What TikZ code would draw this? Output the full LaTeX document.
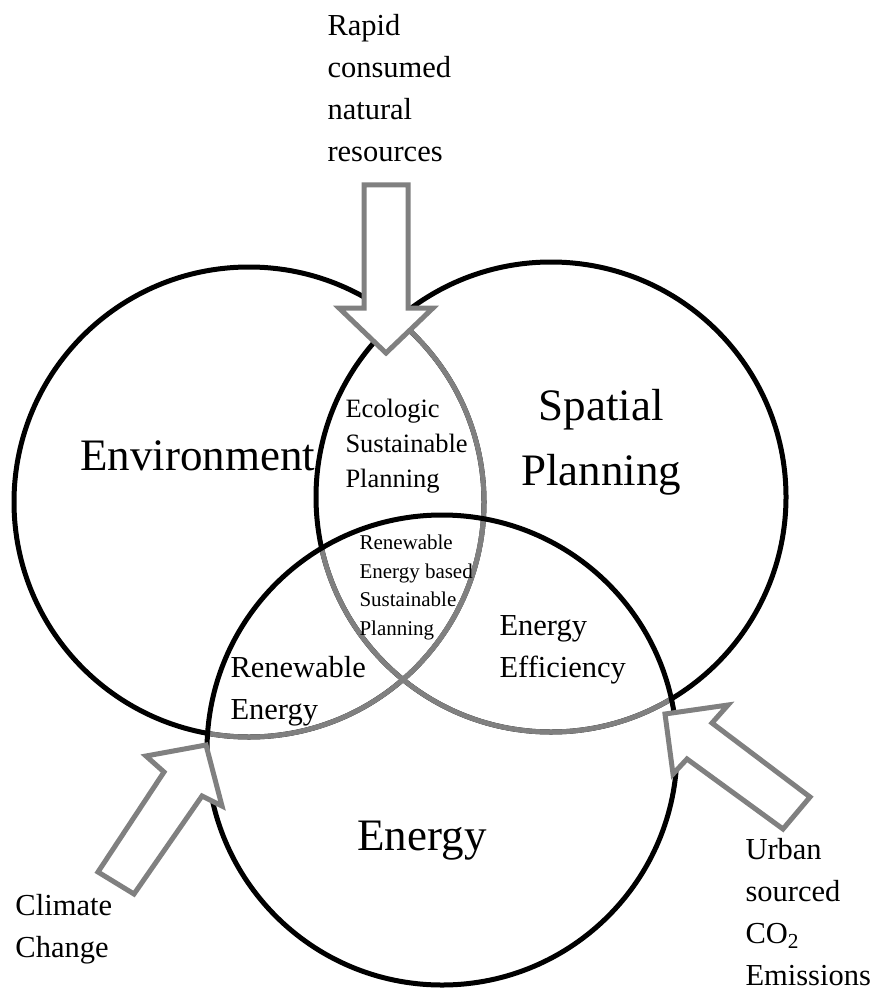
\documentclass[tikz,border=0pt]{standalone}
\usepackage{fontspec}
\setmainfont{Liberation Serif}
\usepackage{tikz}

\begin{document}
\begin{tikzpicture}[x=1pt,y=-1pt,line width=5pt,
  faded/.style={draw=black!50},
  block/.style={draw=black!50,fill=white,line width=5pt,line join=miter},
  big/.style={font=\fontsize{45}{65}\selectfont,inner sep=0pt},
  mid/.style={font=\fontsize{30.5}{42}\selectfont,align=left,anchor=base west,inner sep=0pt},
  small/.style={font=\fontsize{26.5}{35}\selectfont,align=left,anchor=base west,inner sep=0pt},
  tiny/.style={font=\fontsize{21}{28.5}\selectfont,align=left,anchor=base west,inner sep=0pt}]
\useasboundingbox (0,0) rectangle (876,992);
\coordinate (env) at (249,502);
\coordinate (spa) at (551,497);
\coordinate (eng) at (442,750);
\draw (env) circle[radius=235pt];
\begin{scope}
\clip (spa) circle[radius=235pt];
\draw[faded] (env) circle[radius=235pt];
\end{scope}
\draw (spa) circle[radius=235pt];
\begin{scope}
\clip (eng) circle[radius=235pt];
\draw[faded] (env) circle[radius=235pt];
\draw[faded] (spa) circle[radius=235pt];
\end{scope}
\draw (eng) circle[radius=235pt];
\draw[block] (364,185) -- (408,185) -- (408,308) -- (433,308) -- (386,353) -- (339,308) -- (364,308) -- cycle;
\draw[block] (98,872) -- (164,772) -- (146,756) -- (206,745) -- (222,806) -- (202,796) -- (134,894) -- cycle;
\draw[block] (665,714) -- (728,705) -- (712,723) -- (810,797) -- (783,829) -- (687,759) -- (673,774) -- cycle;
% multi-line nodes sit on the baseline of their last line
\node[big,anchor=base west] (envtxt) at (78,470) {Environment};
\node[big,anchor=base,align=center] (spatxt) at (601,485) {Spatial\\Planning};
\node[big,anchor=base] (engtxt) at (422,850) {Energy};
\node[small] (eco) at (343,487) {Ecologic\\Sustainable\\Planning};
\node[tiny] (core) at (357,635) {Renewable\\Energy based\\Sustainable\\Planning};
\node[mid] (renew) at (228,719) {Renewable\\Energy};
\node[mid] (eff) at (497,677) {Energy\\Efficiency};
\node[mid] (rapid) at (325,162) {Rapid\\consumed\\natural\\resources};
\node[mid] (climate) at (13,957) {Climate\\Change};
\node[mid] (urban) at (743,985) {Urban\\sourced\\CO\textsubscript{2}\\Emissions};
\end{tikzpicture}
\end{document}
